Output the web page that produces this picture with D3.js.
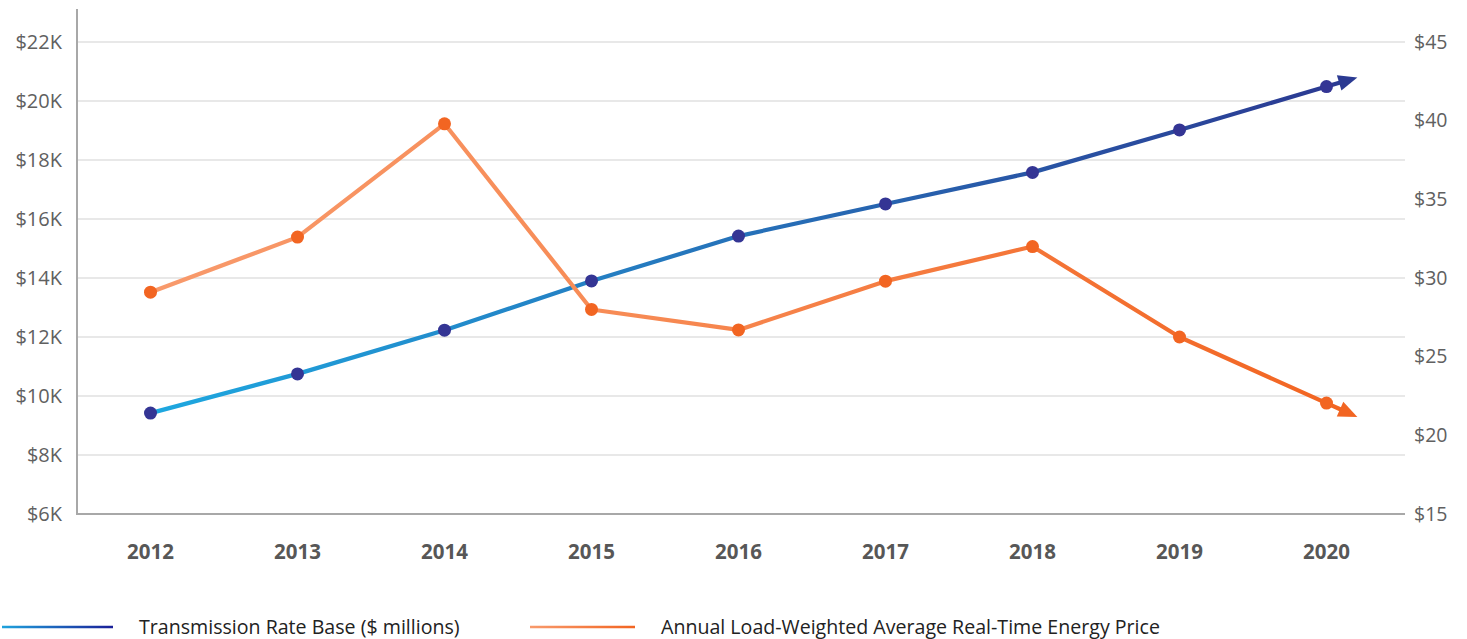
<!DOCTYPE html>
<html>
<head>
<meta charset="utf-8">
<script src="https://cdn.jsdelivr.net/npm/d3@7"></script>
<style>
  body { margin: 0; background: #fff; }
  svg { display: block; }
</style>
</head>
<body>
<div id="chart"></div>
<script>
const years = ["2012", "2013", "2014", "2015", "2016", "2017", "2018", "2019", "2020"];
const rateBase = [9420, 10750, 12230, 13900, 15420, 16510, 17580, 19020, 20490];
const energyPrice = [29.1, 32.6, 39.8, 28.0, 26.7, 29.8, 32.0, 26.25, 22.05];
const leftTicks = [6000, 8000, 10000, 12000, 14000, 16000, 18000, 20000, 22000];
const rightTicks = [15, 20, 25, 30, 35, 40, 45];
const legendLabels = ["Transmission Rate Base ($ millions)", "Annual Load-Weighted Average Real-Time Energy Price"];

const width = 1467, height = 639;
const plot = {left: 77, right: 1405, top: 42, bottom: 514, axisTop: 9};
const font = "'Open Sans', Roboto, sans-serif";

const svg = d3.select("#chart").append("svg")
  .attr("width", width)
  .attr("height", height);

const defs = svg.append("defs");
function gradient(id, x1, x2, stops) {
  const g = defs.append("linearGradient")
    .attr("id", id)
    .attr("gradientUnits", "userSpaceOnUse")
    .attr("x1", x1).attr("x2", x2).attr("y1", 0).attr("y2", 0);
  stops.forEach(s => g.append("stop").attr("offset", s[0]).attr("stop-color", s[1]));
}

// categories sit on a slightly narrower band than the grid
const x = d3.scaleBand().domain(years).range([plot.left, plot.right - 5]).padding(0);
const cx = d => x(d) + x.bandwidth() / 2;
const yL = d3.scaleLinear().domain([6000, 22000]).range([plot.bottom, plot.top]);
const yR = d3.scaleLinear().domain([15, 45]).range([plot.bottom, plot.top]);

gradient("blueLine", cx(years[0]), cx(years[years.length - 1]),
  [[0, "#1ea8e0"], [0.45, "#2577bd"], [1, "#2b3a92"]]);
gradient("orangeLine", cx(years[0]), cx(years[years.length - 1]),
  [[0, "#f89a6c"], [0.4, "#f78b55"], [1, "#f26522"]]);
gradient("blueLegend", 2, 113, [[0, "#1fa3dd"], [1, "#1a1f98"]]);
gradient("orangeLegend", 530, 635, [[0, "#f89a6c"], [1, "#f26522"]]);

// gridlines
svg.append("g")
  .selectAll("line")
  .data(leftTicks.slice(1))
  .join("line")
  .attr("x1", plot.left).attr("x2", plot.right)
  .attr("y1", d => yL(d)).attr("y2", d => yL(d))
  .attr("stroke", "#e1e1e1")
  .attr("stroke-width", 1.5);

// axis lines
svg.append("line")
  .attr("x1", plot.left).attr("x2", plot.left)
  .attr("y1", plot.axisTop).attr("y2", plot.bottom + 1)
  .attr("stroke", "#a8a8a8").attr("stroke-width", 2);
svg.append("line")
  .attr("x1", plot.left).attr("x2", plot.right)
  .attr("y1", plot.bottom).attr("y2", plot.bottom)
  .attr("stroke", "#a8a8a8").attr("stroke-width", 2);

// left axis labels
const leftAxis = svg.append("g")
  .attr("transform", `translate(${plot.left - 15},0)`)
  .call(d3.axisLeft(yL).tickValues(leftTicks).tickSize(0).tickPadding(0)
    .tickFormat(d => "$" + d / 1000 + "K"));
leftAxis.select(".domain").remove();
leftAxis.selectAll("text")
  .attr("font-family", font)
  .attr("font-size", 20)
  .attr("fill", "#606060");

// right axis labels
const rightAxis = svg.append("g")
  .attr("transform", `translate(${plot.right + 9},0)`)
  .call(d3.axisRight(yR).tickValues(rightTicks).tickSize(0).tickPadding(0)
    .tickFormat(d => "$" + d));
rightAxis.select(".domain").remove();
rightAxis.selectAll("text")
  .attr("font-family", font)
  .attr("font-size", 19.5)
  .attr("fill", "#606060");

// x axis labels
const xAxis = svg.append("g")
  .attr("transform", `translate(0,${plot.bottom + 30})`)
  .call(d3.axisBottom(x).tickSize(0).tickPadding(0));
xAxis.select(".domain").remove();
xAxis.selectAll("text")
  .attr("font-family", font)
  .attr("font-size", 20.5)
  .attr("font-weight", "bold")
  .attr("fill", "#575757");

function drawSeries(values, y, lineGrad, arrowColor, dotColor) {
  const pts = values.map((v, i) => [cx(years[i]), y(v)]);
  const a = pts[pts.length - 2], b = pts[pts.length - 1];
  const dx = b[0] - a[0], dy = b[1] - a[1];
  const len = Math.hypot(dx, dy);
  const ux = dx / len, uy = dy / len;
  const reach = x.bandwidth() * 0.21 / ux;
  const tip = [b[0] + ux * reach, b[1] + uy * reach];
  const base = [tip[0] - ux * 19, tip[1] - uy * 19];

  svg.append("path")
    .datum(pts)
    .attr("fill", "none")
    .attr("stroke", `url(#${lineGrad})`)
    .attr("stroke-width", 4.2)
    .attr("stroke-linejoin", "round")
    .attr("d", d3.line());

  svg.append("line")
    .attr("x1", b[0]).attr("y1", b[1])
    .attr("x2", base[0] + ux * 2).attr("y2", base[1] + uy * 2)
    .attr("stroke", arrowColor)
    .attr("stroke-width", 4.2);

  const half = 8;
  svg.append("path")
    .attr("fill", arrowColor)
    .attr("d", d3.line()([
      tip,
      [base[0] - uy * half, base[1] + ux * half],
      [base[0] + uy * half, base[1] - ux * half]
    ]) + "Z");

  svg.append("g")
    .selectAll("circle")
    .data(pts)
    .join("circle")
    .attr("cx", d => d[0])
    .attr("cy", d => d[1])
    .attr("r", 6.5)
    .attr("fill", dotColor);
}

drawSeries(rateBase, yL, "blueLine", "#2b3a92", "#343594");
drawSeries(energyPrice, yR, "orangeLine", "#f26522", "#f26522");

// legend
const legend = svg.append("g");
const legendItems = [
  {label: legendLabels[0], x1: 2, x2: 113, tx: 139, grad: "blueLegend"},
  {label: legendLabels[1], x1: 530, x2: 635, tx: 661, grad: "orangeLegend"}
];
legendItems.forEach(it => {
  legend.append("line")
    .attr("x1", it.x1).attr("x2", it.x2)
    .attr("y1", 627).attr("y2", 627)
    .attr("stroke", `url(#${it.grad})`)
    .attr("stroke-width", 2.5);
  legend.append("text")
    .attr("x", it.tx).attr("y", 627)
    .attr("dy", "0.35em")
    .attr("font-family", font)
    .attr("font-size", 19.6)
    .attr("fill", "#222")
    .text(it.label);
});
</script>
</body>
</html>
